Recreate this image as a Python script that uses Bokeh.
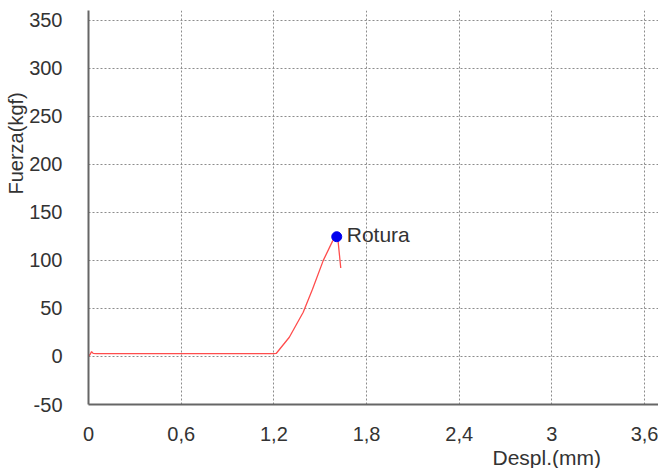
import numpy as np
from bokeh.plotting import figure
from bokeh.models import FixedTicker, Range1d, Label, Title
from bokeh.embed import file_html
from bokeh.resources import INLINE

# Data
desp = [0.0, 0.01, 0.02, 0.03, 0.05, 0.6, 1.2, 1.215, 1.30, 1.39, 1.45, 1.52, 1.58, 1.607, 1.615, 1.625, 1.633]
fuerza = [0.0, 2.0, 5.0, 3.2, 3.0, 3.0, 3.0, 3.1, 20.0, 46.0, 70.0, 100.0, 120.0, 124.6, 121.0, 105.0, 92.0]
rotura_x = [1.607]
rotura_y = [124.6]
x_ticks = [0, 0.6, 1.2, 1.8, 2.4, 3.0, 3.6]
x_tick_labels = ["0", "0,6", "1,2", "1,8", "2,4", "3", "3,6"]
y_ticks = [-50, 0, 50, 100, 150, 200, 250, 300, 350]
y_tick_labels = ["-50", "0", "50", "100", "150", "200", "250", "300", "350"]

FONT = "Liberation Sans"
TXT = "#333333"

p = figure(width=658, height=468, output_backend="svg", toolbar_location=None,
           x_range=Range1d(0, 3.69), y_range=Range1d(-50, 360),
           min_border_left=88, min_border_right=0, min_border_top=10, min_border_bottom=63)
p.outline_line_color = None
p.background_fill_color = "white"

p.xaxis.ticker = FixedTicker(ticks=x_ticks)
p.xaxis.major_label_overrides = {t: l for t, l in zip(x_ticks, x_tick_labels)}
p.yaxis.ticker = FixedTicker(ticks=y_ticks)
p.yaxis.major_label_overrides = {t: l for t, l in zip(y_ticks, y_tick_labels)}

for ax in (p.xaxis, p.yaxis):
    ax.axis_line_color = "#666666"
    ax.axis_line_width = 2
    ax.major_tick_line_color = None
    ax.minor_tick_line_color = None
    ax.major_label_text_font = FONT
    ax.major_label_text_font_size = "20px"
    ax.major_label_text_color = TXT
p.xaxis.major_label_standoff = 16
p.yaxis.major_label_standoff = 20

for g in (p.xgrid, p.ygrid):
    g.grid_line_color = "#8c8c8c"
    g.grid_line_dash = "2 2"
    g.grid_line_width = 1

p.line(desp, fuerza, line_color="#ff4d4d", line_width=1.3)
p.scatter(rotura_x, rotura_y, size=10, color="#0000ee")
p.add_layout(Label(x=rotura_x[0], y=rotura_y[0], text="Rotura", x_offset=10, y_offset=-9,
                   text_font=FONT, text_font_size="21px", text_color=TXT))

p.add_layout(Title(text="Despl.(mm)", align="left", offset=404, standoff=0,
                   text_font=FONT, text_font_size="21px", text_color=TXT,
                   text_font_style="normal"), "below")
p.add_layout(Title(text="Fuerza(kgf)", align="left", offset=210, standoff=0,
                   text_font=FONT, text_font_size="20px", text_color=TXT,
                   text_font_style="normal"), "left")

open("out.html", "w").write(file_html(p, INLINE))
